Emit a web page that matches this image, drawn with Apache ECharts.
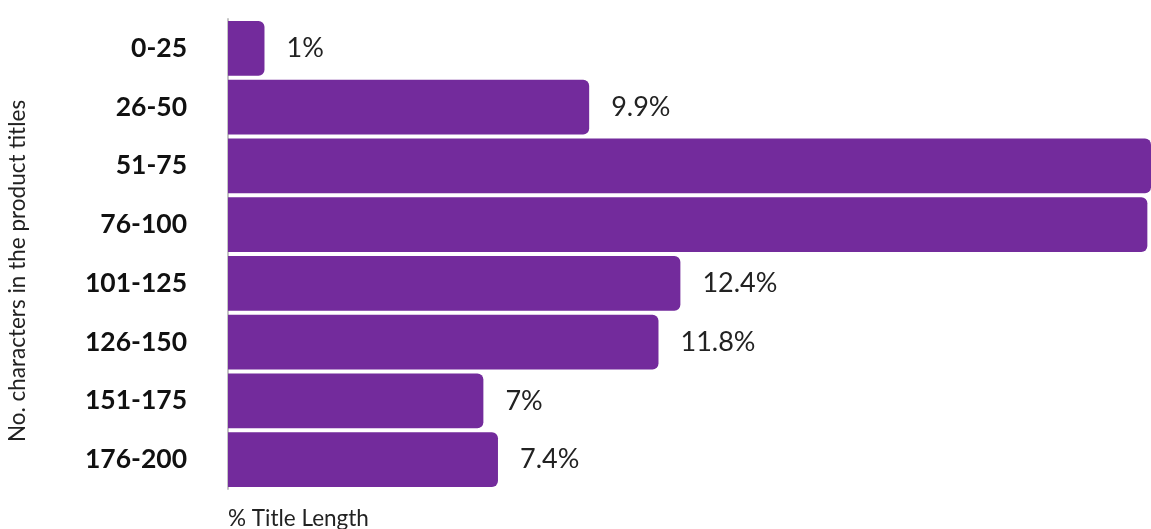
<!DOCTYPE html>
<html>
<head>
<meta charset="utf-8">
<script src="https://cdn.jsdelivr.net/npm/echarts@6/dist/echarts.min.js"></script>
<style>
html,body{margin:0;padding:0;background:#fff;}
#c{width:1151px;height:529px;}
</style>
</head>
<body>
<div id="c"></div>
<script>
const categories = ["0-25","26-50","51-75","76-100","101-125","126-150","151-175","176-200"];
const values = [1, 9.9, 25.3, 25.2, 12.4, 11.8, 7, 7.4];
const xAxisTitle = "% Title Length";
const yAxisTitle = "No. characters in the product titles";

const chart = echarts.init(document.getElementById('c'));
const FONT = 'Lato, "Noto Sans", sans-serif';
chart.setOption({
  animation: false,
  backgroundColor: '#fff',
  grid: { left: 228, right: 0, top: 19, bottom: 40, containLabel: false, outerBoundsMode: 'none' },
  title: {
    text: xAxisTitle, left: 223, top: 502,
    textStyle: { fontFamily: FONT, fontSize: 22.5, fontWeight: 'normal', color: '#222' }
  },
  graphic: [{
    type: 'text', x: 6, y: 271, rotation: Math.PI / 2,
    style: { text: yAxisTitle, fontFamily: FONT, fontSize: 22.5, fill: '#222',
             align: 'center', verticalAlign: 'top' }
  }],
  xAxis: {
    type: 'value', min: 0, max: 25.3,
    axisLine: { show: false }, axisTick: { show: false },
    axisLabel: { show: false }, splitLine: { show: false }
  },
  yAxis: {
    type: 'category', data: categories, inverse: true,
    axisLine: { show: true, lineStyle: { color: '#c4c4c4', width: 2 } },
    axisTick: { show: false },
    axisLabel: { margin: 41, fontFamily: FONT, fontSize: 26.5, fontWeight: 'bold', color: '#111' }
  },
  series: [{
    type: 'bar', data: values, barCategoryGap: '7%',
    itemStyle: { color: '#732B9C', borderRadius: [0, 6, 6, 0] },
    label: { show: true, position: 'right', distance: 22, formatter: '{c}%',
             fontFamily: FONT, fontSize: 27, color: '#222' }
  }]
});
</script>
</body>
</html>
